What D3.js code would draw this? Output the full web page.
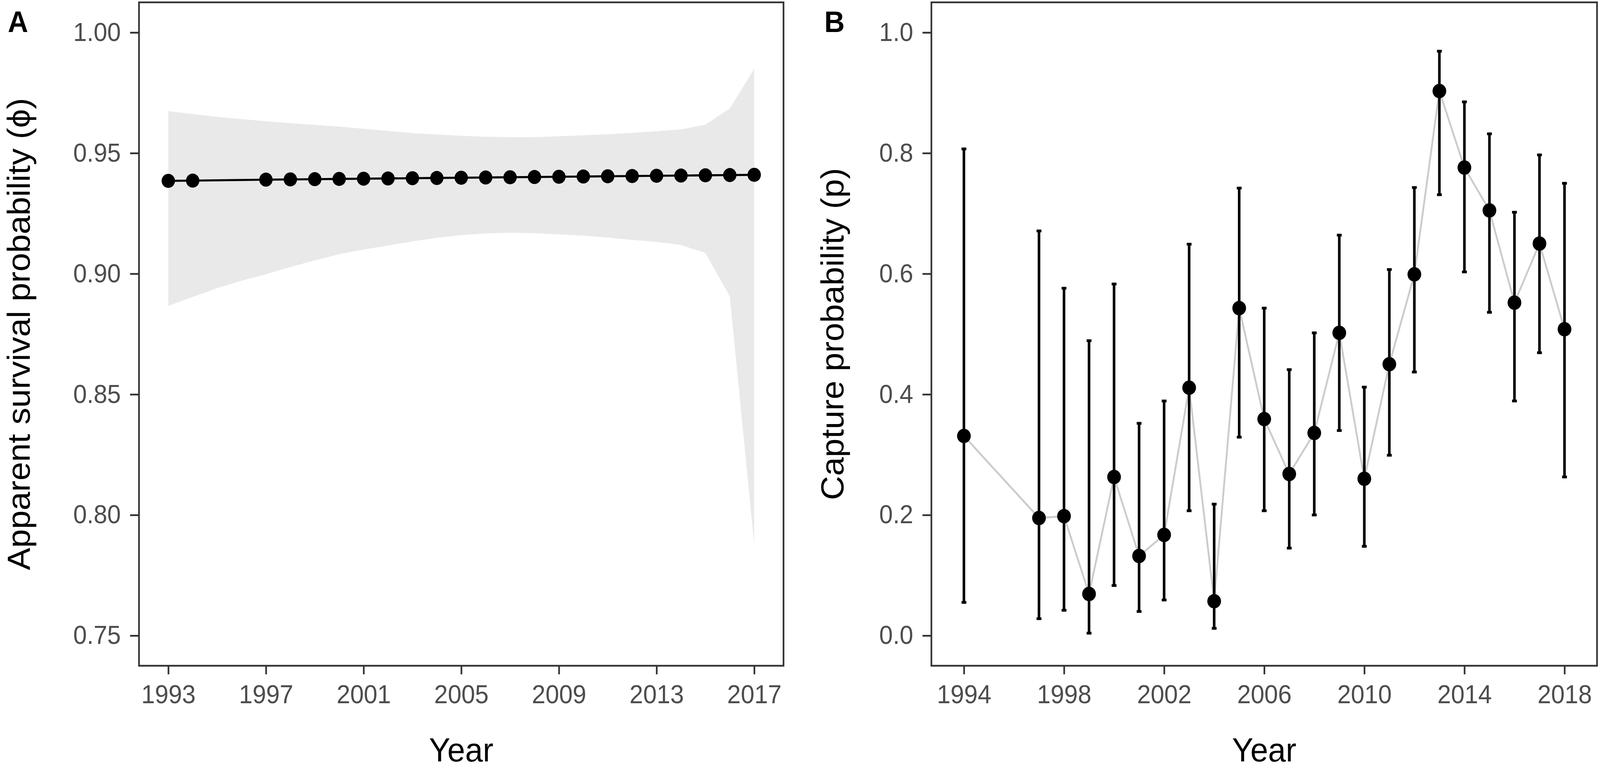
<!DOCTYPE html>
<html>
<head>
<meta charset="utf-8">
<script src="https://cdn.jsdelivr.net/npm/d3@7"></script>
<style>
  html, body { margin: 0; padding: 0; background: #fff; overflow: hidden; }
  svg { display: block; font-family: "Liberation Sans", Arial, sans-serif; }
</style>
</head>
<body>
<div id="chart"></div>
<script>
// panel A - apparent survival
var survYears = [1993, 1994, 1997, 1998, 1999, 2000, 2001, 2002, 2003, 2004, 2005, 2006,
                 2007, 2008, 2009, 2010, 2011, 2012, 2013, 2014, 2015, 2016, 2017]
var survPhi = [0.9385, 0.9386, 0.9390, 0.9391, 0.9392, 0.9393, 0.9394, 0.9395, 0.9396, 0.9397, 0.9398, 0.9399,
               0.9400, 0.9401, 0.9402, 0.9403, 0.9404, 0.9405, 0.9406, 0.9407, 0.9408, 0.9409, 0.9410]
var bandYears = [1993, 1994, 1995, 1996, 1997, 1998, 1999, 2000, 2001, 2002, 2003, 2004, 2005,
                 2006, 2007, 2008, 2009, 2010, 2011, 2012, 2013, 2014, 2015, 2016, 2017]
var bandUpper = [0.9674, 0.9662, 0.9650, 0.9641, 0.9632, 0.9624, 0.9617, 0.9610, 0.9601, 0.9592, 0.9583, 0.9577, 0.9572,
                 0.9568, 0.9566, 0.9566, 0.9570, 0.9574, 0.9578, 0.9584, 0.9591, 0.9598, 0.9618, 0.9685, 0.9849]
var bandLower = [0.8867, 0.8904, 0.8940, 0.8971, 0.8998, 0.9028, 0.9055, 0.9081, 0.9100, 0.9117, 0.9134, 0.9149, 0.9160,
                 0.9167, 0.9170, 0.9168, 0.9163, 0.9158, 0.9150, 0.9140, 0.9132, 0.9119, 0.9086, 0.8906, 0.7878]
var ticksA_x = [1993, 1997, 2001, 2005, 2009, 2013, 2017]
var ticksA_y = [0.75, 0.80, 0.85, 0.90, 0.95, 1.00]

// panel B - capture probability
var capYears = [1994, 1997, 1998, 1999, 2000, 2001, 2002, 2003, 2004, 2005, 2006, 2007,
                2008, 2009, 2010, 2011, 2012, 2013, 2014, 2015, 2016, 2017, 2018]
var capP = [0.331, 0.195, 0.198, 0.069, 0.263, 0.132, 0.167, 0.411, 0.057, 0.543, 0.359, 0.268,
            0.336, 0.502, 0.260, 0.450, 0.599, 0.903, 0.776, 0.705, 0.552, 0.650, 0.508]
var capLo = [0.055, 0.028, 0.042, 0.004, 0.083, 0.040, 0.059, 0.207, 0.012, 0.329, 0.207, 0.145,
             0.200, 0.340, 0.148, 0.299, 0.437, 0.731, 0.603, 0.536, 0.389, 0.469, 0.263]
var capHi = [0.807, 0.671, 0.576, 0.489, 0.583, 0.352, 0.389, 0.649, 0.218, 0.742, 0.543, 0.441,
             0.502, 0.664, 0.412, 0.607, 0.743, 0.969, 0.885, 0.832, 0.702, 0.797, 0.750]
var ticksB_x = [1994, 1998, 2002, 2006, 2010, 2014, 2018]
var ticksB_y = [0.0, 0.2, 0.4, 0.6, 0.8, 1.0]

// drawn in a 4317x1972 frame, stretched to whatever the window gives
var W = 4317, H = 1972
var svg = d3.select('#chart').append('svg')
    .attr('viewBox', '0 0 ' + W + ' ' + H)
    .attr('preserveAspectRatio', 'none')
    .style('width', '100vw')
    .style('height', '100vh')
svg.append('rect').attr('width', W).attr('height', H).attr('fill', 'white')

var tickCol = '#333333', textCol = '#4d4d4d'

function panel(opt) {
  var x = d3.scaleLinear().domain(opt.xdom).range([opt.left, opt.right])
  var y = d3.scaleLinear().domain(opt.ydom).range([opt.bottom, opt.top])
  var g = svg.append('g')

  opt.draw(g, x, y)

  // border
  g.append('rect')
    .attr('x', opt.left).attr('y', opt.top)
    .attr('width', opt.right - opt.left).attr('height', opt.bottom - opt.top)
    .attr('fill', 'none').attr('stroke', tickCol).attr('stroke-width', 4.5)

  var ax = g.append('g')
    .attr('transform', 'translate(0,' + opt.bottom + ')')
    .call(d3.axisBottom(x).tickValues(opt.xt).tickFormat(d3.format('d'))
      .tickSize(22).tickPadding(27))
  var ay = g.append('g')
    .attr('transform', 'translate(' + opt.left + ',0)')
    .call(d3.axisLeft(y).tickValues(opt.yt).tickFormat(d3.format(opt.yfmt))
      .tickSize(24).tickPadding(25))
  ;[ax, ay].forEach(function(a) {
    a.select('.domain').remove()
    a.selectAll('line').attr('stroke', tickCol).attr('stroke-width', 4.5)
    a.selectAll('text').attr('fill', textCol).attr('font-size', 66)
      .attr('font-family', '"Liberation Sans", Arial, sans-serif')
  })

  g.append('text')
    .attr('x', (opt.left + opt.right) / 2).attr('y', 1950)
    .attr('text-anchor', 'middle').attr('font-size', 86).attr('fill', 'black')
    .text('Year')
  g.append('text')
    .attr('transform', 'translate(' + opt.ytx + ',' + (opt.top + opt.bottom) / 2 + ') rotate(-90)')
    .attr('text-anchor', 'middle').attr('font-size', 86).attr('fill', 'black')
    .text(opt.ytitle)
  g.append('text')
    .attr('x', opt.tagx).attr('y', 82)
    .attr('font-size', 76).attr('font-weight', 'bold').attr('fill', 'black')
    .text(opt.tag)
}

panel({
  xdom: [1991.8, 2018.2], ydom: [0.7375, 1.0125],
  left: 375, right: 2114, top: 6, bottom: 1705,
  xt: ticksA_x, yt: ticksA_y, yfmt: '.2f',
  ytx: 80, ytitle: 'Apparent survival probability (\u03D5)',
  tag: 'A', tagx: 21,
  draw: function(g, x, y) {
    var band = bandYears.map(function(d, i) { return {yr: d, lo: bandLower[i], hi: bandUpper[i]} })
    g.append('path')
      .datum(band)
      .attr('fill', '#e9e9e9')
      .attr('d', d3.area().x(function(d) { return x(d.yr) })
        .y0(function(d) { return y(d.lo) }).y1(function(d) { return y(d.hi) }))
    var pts = survYears.map(function(d, i) { return {yr: d, v: survPhi[i]} })
    g.append('path')
      .datum(pts)
      .attr('fill', 'none').attr('stroke', 'black').attr('stroke-width', 5.3)
      .attr('d', d3.line().x(function(d) { return x(d.yr) }).y(function(d) { return y(d.v) }))
    g.selectAll('circle.pt').data(pts).enter().append('circle')
      .attr('class', 'pt')
      .attr('cx', function(d) { return x(d.yr) })
      .attr('cy', function(d) { return y(d.v) })
      .attr('r', 18)
      .attr('fill', 'black')
  }
})

panel({
  xdom: [1992.7, 2019.3], ydom: [-0.05, 1.05],
  left: 2513, right: 4309, top: 6, bottom: 1705,
  xt: ticksB_x, yt: ticksB_y, yfmt: '.1f',
  ytx: 2276, ytitle: 'Capture probability (p)',
  tag: 'B', tagx: 2224,
  draw: function(g, x, y) {
    var pts = capYears.map(function(d, i) { return {yr: d, v: capP[i], lo: capLo[i], hi: capHi[i]} })
    g.append('path')
      .datum(pts)
      .attr('fill', 'none').attr('stroke', '#cccccc').attr('stroke-width', 5)
      .attr('d', d3.line().x(function(d) { return x(d.yr) }).y(function(d) { return y(d.v) }))
    var cap = 6.5
    var eb = g.selectAll('g.eb').data(pts).enter().append('g').attr('class', 'eb')
      .attr('stroke', 'black').attr('stroke-width', 7)
    eb.append('line')
      .attr('x1', function(d) { return x(d.yr) }).attr('x2', function(d) { return x(d.yr) })
      .attr('y1', function(d) { return y(d.lo) }).attr('y2', function(d) { return y(d.hi) })
    eb.append('line')
      .attr('x1', function(d) { return x(d.yr) - cap }).attr('x2', function(d) { return x(d.yr) + cap })
      .attr('y1', function(d) { return y(d.lo) }).attr('y2', function(d) { return y(d.lo) })
    eb.append('line')
      .attr('x1', function(d) { return x(d.yr) - cap }).attr('x2', function(d) { return x(d.yr) + cap })
      .attr('y1', function(d) { return y(d.hi) }).attr('y2', function(d) { return y(d.hi) })
    g.selectAll('circle.pt').data(pts).enter().append('circle')
      .attr('class', 'pt')
      .attr('cx', function(d) { return x(d.yr) })
      .attr('cy', function(d) { return y(d.v) })
      .attr('r', 18.5)
      .attr('fill', 'black')
  }
})
</script>
</body>
</html>
